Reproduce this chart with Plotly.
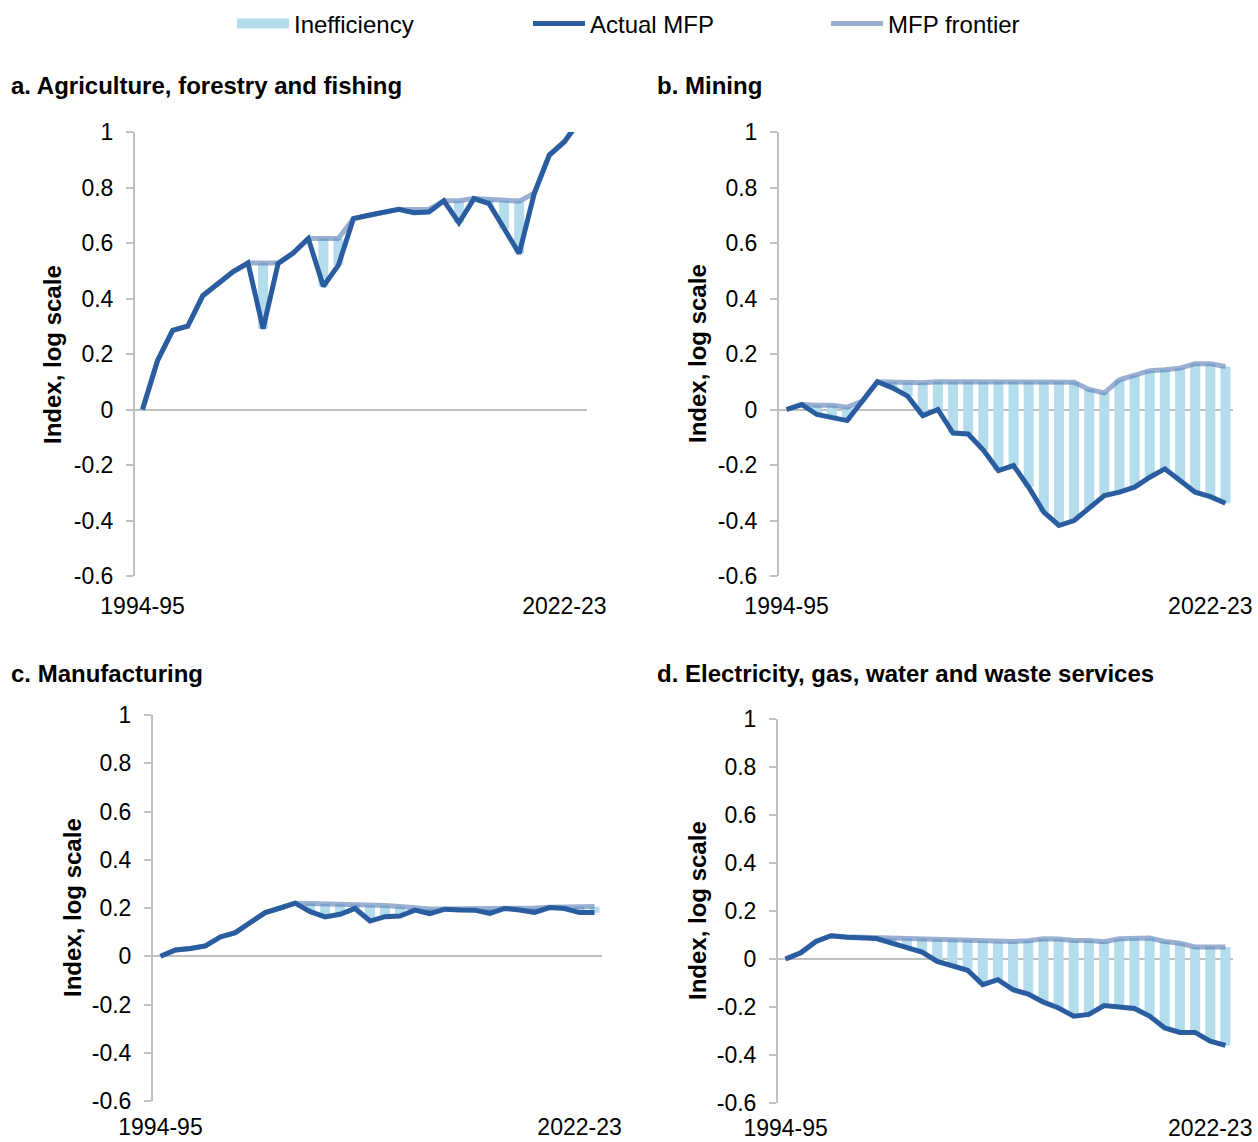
import plotly.graph_objects as go

# Financial years shown on each panel
years = [f"{y}-{str(y + 1)[-2:]}" for y in range(1994, 2024)]
year_ticks = ["1994-95", "2022-23"]

# a. Agriculture, forestry and fishing
agri_actual = [0.0, 0.177, 0.285, 0.30, 0.41, 0.454, 0.496, 0.528, 0.291, 0.526,
               0.564, 0.616, 0.444, 0.52, 0.688, 0.70, 0.711, 0.721, 0.709, 0.712,
               0.752, 0.673, 0.760, 0.742, 0.652, 0.562, 0.779, 0.917, 0.965, 1.04]
agri_frontier = [0.0, 0.177, 0.285, 0.30, 0.41, 0.454, 0.496, 0.528, 0.528, 0.528,
                 0.564, 0.616, 0.616, 0.616, 0.688, 0.70, 0.711, 0.721, 0.721, 0.721,
                 0.752, 0.752, 0.760, 0.756, 0.752, 0.751, 0.779, 0.917, 0.965, 1.04]

# b. Mining
mining_actual = [0.0, 0.018, -0.018, -0.03, -0.04, 0.03, 0.10, 0.078, 0.048, -0.022,
                 0.0, -0.085, -0.088, -0.146, -0.22, -0.202, -0.28, -0.37, -0.418, -0.40,
                 -0.356, -0.31, -0.298, -0.28, -0.244, -0.214, -0.256, -0.298, -0.314, -0.338]
mining_frontier = [0.0, 0.018, 0.015, 0.015, 0.008, 0.03, 0.10, 0.099, 0.097, 0.096,
                   0.10, 0.10, 0.10, 0.10, 0.10, 0.10, 0.10, 0.10, 0.10, 0.098,
                   0.072, 0.06, 0.107, 0.123, 0.14, 0.143, 0.149, 0.165, 0.165, 0.155]

# c. Manufacturing
manuf_actual = [0.0, 0.026, 0.032, 0.043, 0.080, 0.098, 0.140, 0.181, 0.200, 0.220,
                0.185, 0.163, 0.174, 0.198, 0.146, 0.164, 0.167, 0.191, 0.177, 0.195,
                0.192, 0.191, 0.178, 0.198, 0.192, 0.182, 0.202, 0.198, 0.181, 0.181]
manuf_frontier = [0.0, 0.026, 0.032, 0.043, 0.080, 0.098, 0.140, 0.181, 0.200, 0.220,
                  0.219, 0.218, 0.216, 0.215, 0.212, 0.210, 0.206, 0.200, 0.196, 0.196,
                  0.196, 0.196, 0.196, 0.198, 0.199, 0.200, 0.203, 0.205, 0.206, 0.206]

# d. Electricity, gas, water and waste services
egws_actual = [0.0, 0.026, 0.073, 0.097, 0.091, 0.087, 0.085, 0.066, 0.046, 0.029,
               -0.01, -0.028, -0.047, -0.107, -0.086, -0.128, -0.146, -0.18, -0.204, -0.238,
               -0.231, -0.194, -0.200, -0.206, -0.238, -0.287, -0.306, -0.306, -0.342, -0.36]
egws_frontier = [0.0, 0.026, 0.073, 0.097, 0.093, 0.091, 0.090, 0.087, 0.086, 0.086,
                 0.084, 0.083, 0.080, 0.076, 0.072, 0.073, 0.076, 0.084, 0.083, 0.077,
                 0.077, 0.072, 0.084, 0.087, 0.087, 0.073, 0.066, 0.05, 0.052, 0.05]

panel_titles = ["a. Agriculture, forestry and fishing", "b. Mining",
                "c. Manufacturing", "d. Electricity, gas, water and waste services"]
y_ticks = [1, 0.8, 0.6, 0.4, 0.2, 0, -0.2, -0.4, -0.6]
y_tick_text = ["1", "0.8", "0.6", "0.4", "0.2", "0", "-0.2", "-0.4", "-0.6"]

panels = [
    (agri_actual, agri_frontier),
    (mining_actual, mining_frontier),
    (manuf_actual, manuf_frontier),
    (egws_actual, egws_frontier),
]

W, H = 1258, 1142
FONT = "Liberation Sans, Arial, sans-serif"
BAR_COL = "#B3DDEC"
ACTUAL_COL = "#2A5CA0"
FRONTIER_COL = "rgba(86,124,180,0.6)"

# Plot-area boxes in pixels: (left, right, top, bottom)
boxes = [(135, 587, 132, 576), (779, 1233, 132, 576),
         (153, 602, 715, 1101), (778, 1233, 719, 1103)]
# Gap between the plot bottom and the year labels
x_label_gap = [14, 14, 10, 9]
title_pos = [(9, 85), (655, 85), (9, 673), (655, 673)]
ytitle_pos = [(52, 354), (697, 354), (72, 908), (697, 911)]

fig = go.Figure()

for k, (actual, frontier) in enumerate(panels):
    ax = "" if k == 0 else str(k + 1)
    gap = [f - a for a, f in zip(actual, frontier)]
    fig.add_trace(go.Bar(
        x=years, y=gap, base=actual, width=0.66,
        marker=dict(color=BAR_COL, line=dict(width=0)),
        name="Inefficiency", showlegend=False,
        xaxis="x" + ax, yaxis="y" + ax,
    ))
    fig.add_trace(go.Scatter(
        x=years, y=frontier, mode="lines",
        line=dict(color=FRONTIER_COL, width=5),
        name="MFP frontier", showlegend=(k == 0), legend="legend3",
        xaxis="x" + ax, yaxis="y" + ax,
    ))
    fig.add_trace(go.Scatter(
        x=years, y=actual, mode="lines",
        line=dict(color=ACTUAL_COL, width=5),
        name="Actual MFP", showlegend=(k == 0), legend="legend2",
        xaxis="x" + ax, yaxis="y" + ax,
    ))

    l, r, t, b = boxes[k]
    fig.update_layout(**{
        "xaxis" + ax: dict(
            domain=[l / W, r / W], anchor="y" + ax, type="category",
            categoryorder="array", categoryarray=years, range=[-0.5, 29.5],
            tickmode="array", tickvals=year_ticks, ticktext=year_ticks,
            showline=False, showgrid=False, zeroline=False, ticks="",
            ticklabelstandoff=x_label_gap[k],
            tickfont=dict(family=FONT, size=23, color="#000000"),
        ),
        "yaxis" + ax: dict(
            domain=[1 - b / H, 1 - t / H], anchor="x" + ax, range=[-0.6, 1],
            tickmode="array", tickvals=y_ticks, ticktext=y_tick_text,
            showline=True, linecolor="#BFBFBF", linewidth=2,
            ticks="outside", ticklen=7, tickcolor="#BFBFBF", tickwidth=2,
            ticklabelstandoff=8,
            showgrid=False, zeroline=True, zerolinecolor="#BFBFBF", zerolinewidth=2,
            tickfont=dict(family=FONT, size=23, color="#000000"),
        ),
    })

# Legend key for the shaded inefficiency gap (a wide swatch, like the bar fill)
fig.add_trace(go.Scatter(
    x=[None], y=[None], mode="lines",
    line=dict(color=BAR_COL, width=14),
    name="Inefficiency", showlegend=True, legend="legend",
))

annotations = []
for (tx, ty), text in zip(title_pos, panel_titles):
    annotations.append(dict(
        x=tx / W, y=1 - ty / H, xref="paper", yref="paper",
        xanchor="left", yanchor="middle", showarrow=False,
        text=f"<b>{text}</b>", font=dict(family=FONT, size=24, color="#000000"),
    ))
for tx, ty in ytitle_pos:
    annotations.append(dict(
        x=tx / W, y=1 - ty / H, xref="paper", yref="paper",
        xanchor="center", yanchor="middle", showarrow=False, textangle=-90,
        text="<b>Index, log scale</b>", font=dict(family=FONT, size=24, color="#000000"),
    ))

legend_style = dict(
    orientation="h", yanchor="middle", xanchor="left", y=1 - 24 / H,
    font=dict(family=FONT, size=24, color="#000000"),
    itemwidth=52, bgcolor="rgba(0,0,0,0)", borderwidth=0,
)

fig.update_layout(
    width=W, height=H,
    margin=dict(l=0, r=0, t=0, b=0, autoexpand=False),
    paper_bgcolor="white", plot_bgcolor="white",
    barmode="overlay",
    showlegend=True,
    legend=dict(x=232 / W, **legend_style),
    legend2=dict(x=528 / W, **legend_style),
    legend3=dict(x=826 / W, **legend_style),
    annotations=annotations,
)

fig.write_html("out.html")
